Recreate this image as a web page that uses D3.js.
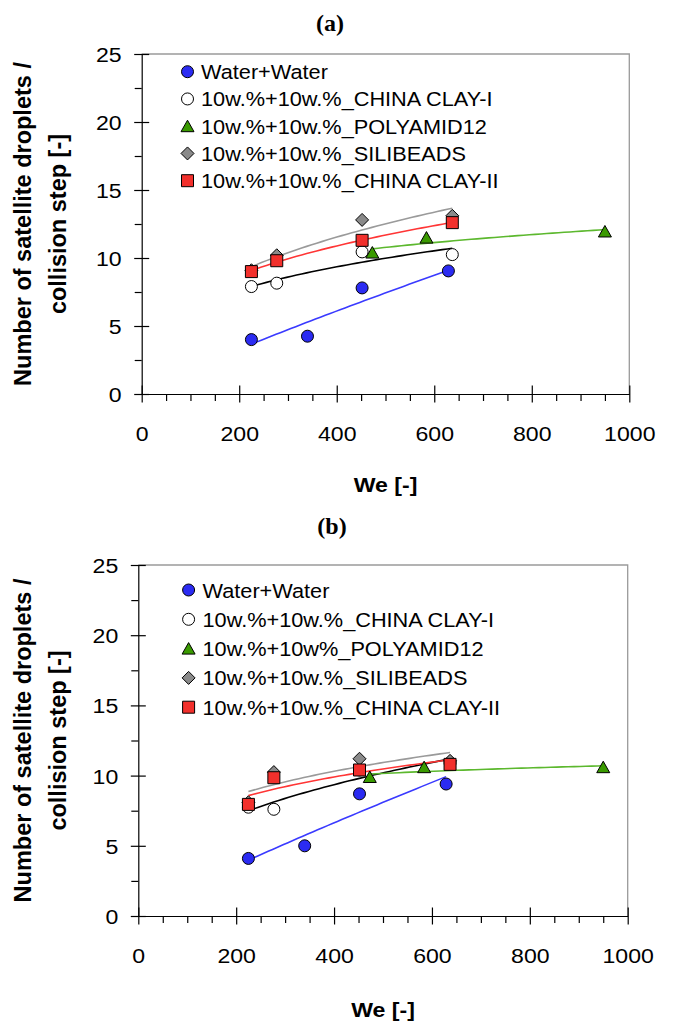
<!DOCTYPE html>
<html>
<head>
<meta charset="utf-8">
<script src="https://cdn.jsdelivr.net/npm/d3@7"></script>
<style>
  html, body { margin: 0; padding: 0; background: #fff; }
  svg { display: block; }
</style>
</head>
<body>
<svg id="chart" width="674" height="1028"></svg>
<script>
// ---- data ----
var xTicks = [0, 200, 400, 600, 800, 1000];
var yTicks = [0, 5, 10, 15, 20, 25];

var weWater = [225, 340, 452, 629];
var weClay = [225, 277, 452, 637];
var wePoly = [473, 584, 950];
var weSili = [225, 277, 452, 637];

// panel (a)
var aWater = [4.0, 4.25, 7.8, 9.05];
var aClay1 = [7.9, 8.15, 10.45, 10.25];
var aPoly = [10.4, 11.5, 11.95];
var aSili = [9.1, 10.2, 12.8, 13.1];
var aClay2 = [9.0, 9.8, 11.3, 12.6];

// panel (b)
var bWater = [4.1, 5.0, 8.7, 9.4];
var bClay1 = [7.75, 7.6, 10.4, 10.9];
var bPoly = [9.9, 10.6, 10.6];
var bSili = [8.1, 10.25, 11.2, 11.05];
var bClay2 = [7.95, 9.85, 10.4, 10.8];

var legendA = ["Water+Water", "10w.%+10w.%_CHINA CLAY-I", "10w.%+10w.%_POLYAMID12",
               "10w.%+10w.%_SILIBEADS", "10w.%+10w.%_CHINA CLAY-II"];
var legendB = ["Water+Water", "10w.%+10w.%_CHINA CLAY-I", "10w.%+10w%_POLYAMID12",
               "10w.%+10w.%_SILIBEADS", "10w.%+10w.%_CHINA CLAY-II"];

// ---- styles ----
var markerFill = ["#2b2bf2", "#ffffff", "#3a9a00", "#8a8a8a", "#f2302c"];
var lineColor = ["#3a3aff", "#000000", "#5cb82e", "#9a9a9a", "#ff3535"];
var shapes = ["circle", "circle", "triangle", "diamond", "square"];
var xSets = [weWater, weClay, wePoly, weSili, weClay];

var font = "Arial, 'Liberation Sans', Helvetica, sans-serif";

var panels = [
  {title: "(a)", titleX: 330, titleY: 31, left: 141.7, right: 629.3, top: 54, bottom: 394,
   ys: [aWater, aClay1, aPoly, aSili, aClay2], labels: legendA,
   legX: 187.5, legTextX: 201, legY0: 71.7, legDy: 27.25, xTitleY: 491.5},
  {title: "(b)", titleX: 332, titleY: 534, left: 138.3, right: 627.7, top: 565, bottom: 916,
   ys: [bWater, bClay1, bPoly, bSili, bClay2], labels: legendB,
   legX: 188.6, legTextX: 202.5, legY0: 590, legDy: 29.3, xTitleY: 1017}
];

var svg = d3.select("#chart");

function shapePath(s) {
  if (s === "circle") return d3.symbol(d3.symbolCircle, Math.PI * 36)();
  if (s === "square") return "M-6,-6H6V6H-6Z";
  if (s === "triangle") return "M0,-6L6.5,5.5L-6.5,5.5Z";
  return "M0,-6.5L6.5,0L0,6.5L-6.5,0Z";
}

// Excel-style power trendline: y = a * x^b (least squares in log-log)
function powerFit(xs, ys) {
  var lx = xs.map(Math.log), ly = ys.map(Math.log);
  var mx = d3.mean(lx), my = d3.mean(ly);
  var sxy = d3.sum(lx, function(v, i) { return (v - mx) * (ly[i] - my); });
  var sxx = d3.sum(lx, function(v) { return (v - mx) * (v - mx); });
  var b = sxy / sxx, a = my - b * mx;
  return function(x) { return Math.exp(a + b * Math.log(x)); };
}

function sText(g, x, y, str, size, weight, anchor, k) {
  return g.append("text")
    .attr("transform", "translate(" + x + "," + y + ") scale(" + k + ",1)")
    .attr("text-anchor", anchor)
    .style("font-family", font)
    .style("font-size", size + "px")
    .style("font-weight", weight)
    .style("fill", "#000")
    .text(str);
}

panels.forEach(function(p) {
  var g = svg.append("g");

  var x = d3.scaleLinear().domain([0, 1000]).range([p.left, p.right]);
  var y = d3.scaleLinear().domain([0, 25]).range([p.bottom, p.top]);

  // panel title
  g.append("text")
    .attr("x", p.titleX).attr("y", p.titleY)
    .attr("text-anchor", "middle")
    .style("font-family", "'Liberation Serif', 'Times New Roman', serif")
    .style("font-weight", "bold")
    .style("font-size", "24px")
    .text(p.title);

  // frame (top / right in gray)
  g.append("path")
    .attr("d", "M" + p.left + "," + p.top + "H" + p.right + "V" + p.bottom)
    .attr("fill", "none").attr("stroke", "#9a9a9a").attr("stroke-width", 1.3);

  // minor ticks
  var xMinor = d3.range(50, 1000, 50).filter(function(v) { return v % 200 !== 0; });
  var yMinor = d3.range(2.5, 25, 5);
  g.append("g").attr("transform", "translate(0," + p.bottom + ")")
    .call(d3.axisBottom(x).tickValues(xMinor).tickSize(7).tickFormat(""))
    .call(function(s) { s.select(".domain").remove(); });
  g.append("g").attr("transform", "translate(" + p.left + ",0)")
    .call(d3.axisLeft(y).tickValues(yMinor).tickSize(7).tickFormat(""))
    .call(function(s) { s.select(".domain").remove(); });

  // major axes
  var kx = 1.1;
  var gx = g.append("g").attr("transform", "translate(0," + p.bottom + ")")
    .call(d3.axisBottom(x).tickValues(xTicks).tickSizeOuter(0).tickFormat(d3.format("d")));
  gx.selectAll(".tick line").attr("y1", -8.5).attr("y2", 8.5);
  gx.selectAll(".tick text")
    .attr("y", 47).attr("dy", null)
    .attr("transform", "scale(" + kx + ",1)")
    .style("font-family", font).style("font-size", "21px");

  var gy = g.append("g").attr("transform", "translate(" + p.left + ",0)")
    .call(d3.axisLeft(y).tickValues(yTicks).tickSizeOuter(0));
  gy.selectAll(".tick line").attr("x1", -7.5).attr("x2", 7.5);
  gy.selectAll(".tick text")
    .attr("x", -20 / kx).attr("dy", "0.36em")
    .attr("transform", "scale(" + kx + ",1)")
    .style("font-family", font).style("font-size", "21px");

  g.selectAll(".domain, .tick line").attr("stroke", "#000").attr("stroke-width", 1.2);

  // axis titles
  sText(g, (p.left + p.right) / 2, p.xTitleY, "We [-]", 21, "bold", "middle", 1.1);
  var cy = (p.top + p.bottom) / 2;
  g.append("text")
    .attr("transform", "translate(31," + cy + ") rotate(-90)")
    .attr("text-anchor", "middle")
    .style("font-family", font).style("font-weight", "bold").style("font-size", "23.5px")
    .text("Number of satellite droplets /");
  g.append("text")
    .attr("transform", "translate(66," + cy + ") rotate(-90)")
    .attr("text-anchor", "middle")
    .style("font-family", font).style("font-weight", "bold").style("font-size", "23.5px")
    .text("collision step [-]");

  // trendlines
  p.ys.forEach(function(ys, i) {
    var xs = xSets[i];
    var f = powerFit(xs, ys);
    var x0 = d3.min(xs), x1 = d3.max(xs);
    var pts = d3.range(0, 41).map(function(j) { var v = x0 + (x1 - x0) * j / 40; return [v, f(v)]; });
    g.append("path")
      .attr("d", d3.line().x(function(d) { return x(d[0]); }).y(function(d) { return y(d[1]); })(pts))
      .attr("fill", "none")
      .attr("stroke", lineColor[i])
      .attr("stroke-width", 1.6);
  });

  // markers
  p.ys.forEach(function(ys, i) {
    var xs = xSets[i];
    g.append("g").selectAll("path")
      .data(ys)
      .join("path")
      .attr("d", shapePath(shapes[i]))
      .attr("transform", function(d, j) { return "translate(" + x(xs[j]) + "," + y(d) + ")"; })
      .attr("fill", markerFill[i])
      .attr("stroke", "#000")
      .attr("stroke-width", 1);
  });

  // legend
  p.labels.forEach(function(lab, i) {
    var ly = p.legY0 + i * p.legDy;
    g.append("path")
      .attr("d", shapePath(shapes[i]))
      .attr("transform", "translate(" + p.legX + "," + ly + ")")
      .attr("fill", markerFill[i])
      .attr("stroke", "#000")
      .attr("stroke-width", 1);
    sText(g, p.legTextX, ly + 7.5, lab, 20.5, "normal", "start", 1.06);
  });
});
</script>
</body>
</html>
